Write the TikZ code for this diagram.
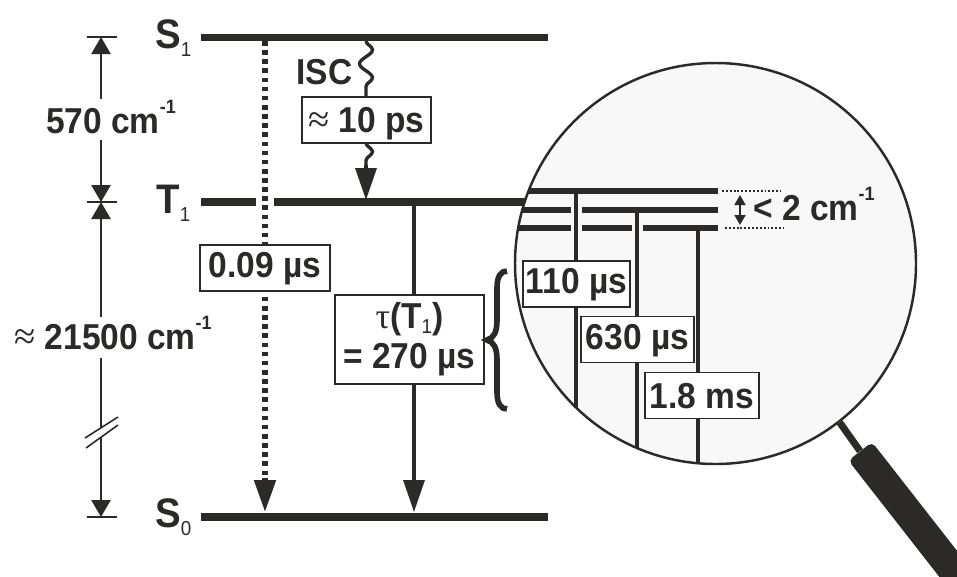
\documentclass[tikz,border=0pt]{standalone}
\usepackage{fontspec}
\setmainfont[FakeStretch=0.93]{Liberation Sans}
\newfontfamily\serifsym{Liberation Serif}
\usetikzlibrary{arrows.meta,decorations.pathmorphing}
\definecolor{inkcol}{RGB}{43,42,41}
\definecolor{lenscol}{RGB}{248,248,248}
\newcommand{\invcm}{cm\raisebox{11.2pt}{\fontsize{11}{11}\selectfont -1}}
\newcommand{\lvlsub}[2][4.6pt]{\raisebox{-#1}{\fontsize{11.5}{12}\selectfont\mdseries #2}}
\newcommand{\approxsym}{{\serifsym\mdseries\fontsize{22}{22}\selectfont ≈}}

\begin{document}
\begin{tikzpicture}[
  x=0.2mm, y=-0.2mm, color=inkcol,
  lvl/.style={line width=4.1pt},
  sublvl/.style={line width=2.9pt},
  trans/.style={line width=1.9pt},
  dimline/.style={line width=1.5pt},
  wavy/.style={trans, decorate, decoration={snake,amplitude=1.3mm,segment length=5.6mm}},
  bighead/.style={-{Triangle[length=6.4mm,width=4.2mm]}},
  dimhead/.style={{Triangle[length=3.4mm,width=3.8mm]}-{Triangle[length=3.4mm,width=3.8mm]}},
  txt/.style={font=\fontsize{20.5}{22.7}\selectfont\bfseries, inner sep=0pt, text=inkcol},
  lvllabel/.style={txt, font=\fontsize{23.5}{24}\selectfont\bfseries, anchor=base west},
  tbox/.style={txt, draw=inkcol, line width=0.9pt, fill=white, align=center, text height=#1, text depth=26.1pt-#1},
  tbox/.default=18.7pt,
]
\useasboundingbox (0,0) rectangle (957,576);
\clip (0,0) rectangle (957,576);

% ===== Levels =====
\coordinate (S1a) at (201,37.5);  \coordinate (S1b) at (548,37.5);
\coordinate (T1a) at (201,202);   \coordinate (T1gapa) at (256,202);
\coordinate (T1gapb) at (274,202);\coordinate (T1b) at (525,202);
\coordinate (S0a) at (201,517);   \coordinate (S0b) at (548,517);
\draw[lvl] (S1a) -- (S1b);
\draw[lvl] (T1a) -- (T1gapa);
\draw[lvl] (T1gapb) -- (T1b);
\draw[lvl] (S0a) -- (S0b);
\node[lvllabel] (labS1) at (155,48)  {S\lvlsub{1}};
\node[lvllabel] (labT1) at (156,213) {T\lvlsub[5pt]{1}};
\node[lvllabel] (labS0) at (155,527) {S\lvlsub{0}};

% ===== Energy gaps on the left =====
\coordinate (tickS1a) at (87,37);   \coordinate (tickS1b) at (117,37);
\coordinate (tickT1a) at (87,202);  \coordinate (tickT1b) at (117,202);
\coordinate (tickS0a) at (87,517);  \coordinate (tickS0b) at (117,517);
\coordinate (dimS1) at (101,37);
\coordinate (dimT1) at (101,202);
\coordinate (dimS0) at (101,517);
\foreach \t in {S1,T1,S0}{\draw[dimline] (tick\t a) -- (tick\t b);}
\draw[dimline,dimhead] (dimS1) -- (dimT1);
\draw[dimline,dimhead] (dimT1) -- (dimS0);
\node[txt, fill=white, minimum width=27mm, text height=19.5pt, text depth=3.8pt, anchor=base] (gapa) at (111,133) {570 \invcm};
\node[txt, fill=white, minimum width=40mm, text height=18pt, text depth=5pt, anchor=base] (gapb) at (113,349) {\approxsym{} 21500 \invcm};
% axis break
\fill[white] (85,438) -- (118,417) -- (118,425) -- (85,448) -- cycle;
\draw[line width=0.9pt] (85,438) -- (118,417);
\draw[line width=0.9pt] (86,448) -- (118,425);

% ===== Transitions =====
\coordinate (fluoa) at (265,41);   \coordinate (fluob) at (265,512);
\coordinate (phosa) at (414,202);  \coordinate (phosb) at (414,512);
\draw[line width=2.9pt, dash pattern=on 2.6pt off 2.6pt] (fluoa) -- (265,482);
\draw[bighead, line width=2.9pt] (265,478) -- (fluob);
\draw[trans, bighead] (phosa) -- (phosb);
\coordinate (isca) at (366,41);   \coordinate (iscb) at (366,97);
\coordinate (iscc) at (366,143);  \coordinate (iscd) at (366,170);
\coordinate (isce) at (366,200);
\draw[wavy] (isca) -- (iscb);
\draw[wavy] (iscc) -- (iscd);
\draw[bighead, trans] (366,165) -- (isce);
\node[txt, anchor=base west] (isc) at (296,84) {ISC};
\node[tbox=20.4pt, minimum width=25.8mm] (boxisc) at (366.5,120) {\approxsym{} 10 ps};
\node[tbox, minimum width=26mm] (boxfluo) at (265,268) {0.09 µs};
\node[txt, draw=inkcol, line width=0.9pt, fill=white, align=center, minimum width=29.8mm, minimum height=17.8mm] (boxphos) at (409.5,339.5) {{\serifsym\mdseries τ}(T\lvlsub[2.8pt]{1})\\= 270 µs};

% ===== Brace =====
\draw[line width=3.2pt]
  (507,271) .. controls (501,271) and (497,276) .. (497,288)
  -- (497,320) .. controls (497,332) and (494,338) .. (487,340)
  .. controls (494,342) and (497,348) .. (497,360)
  -- (497,392) .. controls (497,404) and (501,409) .. (507,409);

% ===== Magnifier =====
\node[rectangle, fill=inkcol, rounded corners=1mm, minimum width=50mm, minimum height=6mm,
      rotate=-52, anchor=west, inner sep=0pt] (handle) at (860,451) {};
\node[circle, draw=inkcol, fill=lenscol, line width=1.4pt, minimum size=80.2mm, inner sep=0pt] (lens) at (715.5,263.5) {};
\draw[line width=4pt] (lens.-52.5) -- (handle.west);

% sublevels inside the lens
\coordinate (Aa) at (528.6,191);  \coordinate (Ab) at (718,191);
\coordinate (Ba) at (522.3,210);  \coordinate (Bb) at (718,210);
\coordinate (Ca) at (518,228);    \coordinate (Cb) at (718,228);
\coordinate (Bg1) at (571,210);   \coordinate (Bg2) at (582,210);
\coordinate (Cg1) at (571,228);   \coordinate (Cg2) at (582,228);
\coordinate (Cg3) at (632,228);   \coordinate (Cg4) at (643,228);
\draw[sublvl] (Aa) -- (Ab);
\draw[sublvl] (Ba) -- (Bg1);
\draw[sublvl] (Bg2) -- (Bb);
\draw[sublvl] (Ca) -- (Cg1);
\draw[sublvl] (Cg2) -- (Cg3);
\draw[sublvl] (Cg4) -- (Cb);
\coordinate (va) at (576,191);    \coordinate (vae) at (576,407.5);
\coordinate (vb) at (637,210);    \coordinate (vbe) at (637,448);
\coordinate (vc) at (698,228);    \coordinate (vce) at (698,463);
\draw[trans] (va) -- (vae);
\draw[trans] (vb) -- (vbe);
\draw[trans] (vc) -- (vce);
\node[tbox, minimum width=21.4mm] (boxa) at (576.5,284) {110 µs};
\node[tbox, minimum width=22.6mm] (boxb) at (637.5,339.5) {630 µs};
\node[tbox=20.4pt, minimum width=22.8mm] (boxc) at (702,395.5) {1.8 ms};

% sublevel splitting
\coordinate (spa) at (722,191);  \coordinate (spb) at (781,191);
\coordinate (spc) at (725,228);  \coordinate (spd) at (784,228);
\coordinate (spe) at (740,195);  \coordinate (spf) at (740,225);
\draw[line width=0.7pt, dash pattern=on 1.1pt off 1.1pt] (spa) -- (spb);
\draw[line width=0.7pt, dash pattern=on 1.1pt off 1.1pt] (spc) -- (spd);
\draw[line width=1pt, {Triangle[length=2mm,width=2.2mm]}-{Triangle[length=2mm,width=2.2mm]}] (spe) -- (spf);
\node[txt, anchor=base west] (splitting) at (753,220) {< 2 \invcm};
\end{tikzpicture}
\end{document}
